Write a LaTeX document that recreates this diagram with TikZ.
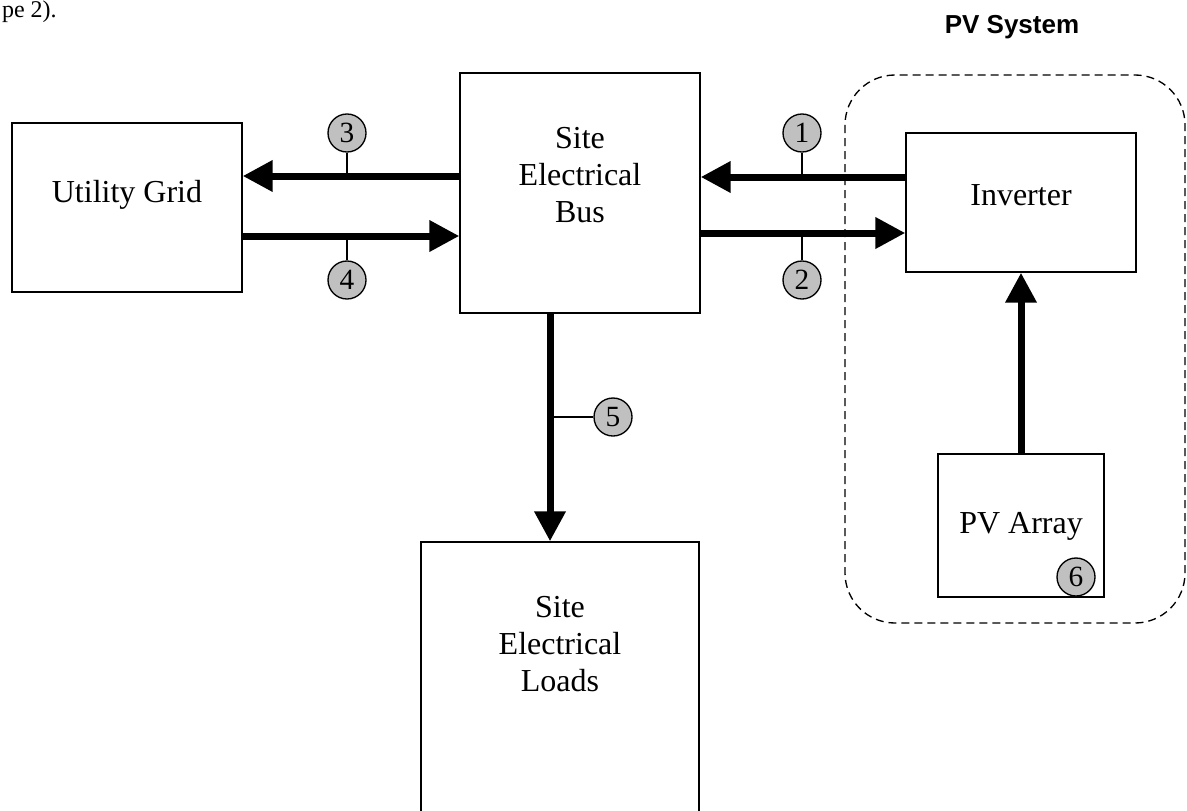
\documentclass[tikz,border=0pt]{standalone}
\usepackage{fontspec}
\setmainfont{Liberation Serif}
\newfontfamily\arialfont{Liberation Sans}
\usetikzlibrary{arrows.meta,calc}
\definecolor{numgray}{HTML}{C0C0C0}
\begin{document}
\begin{tikzpicture}[x=0.75pt,y=-0.75pt,
  box/.style={draw=black,line width=1.1pt,inner sep=0pt,fill=white},
  lbl/.style={inner sep=0pt,font=\fontsize{24pt}{27.75pt}\selectfont,align=center},
  flow/.style={line width=5.25pt,-{Triangle[length=22.5pt,width=22.5pt]}},
  num/.style={circle,draw=black,line width=1pt,fill=numgray,minimum size=28.5pt,inner sep=0pt,font=\fontsize{22pt}{24pt}\selectfont},
  tick/.style={line width=1pt},
  pvbound/.style={draw=black,line width=1pt,dash pattern=on 6pt off 3.75pt,rounded corners=37.5pt}]
\useasboundingbox (0,0) rectangle (1187,810);
% top fragment and title
\node[anchor=base east,inner sep=0pt,font=\fontsize{18pt}{20pt}\selectfont] (frag) at (57,17) {pe 2).};
\node[anchor=base,inner sep=0pt,font=\arialfont\bfseries\fontsize{19.5pt}{22pt}\selectfont] (pvtitle) at (1012,33) {PV System};
% PV system boundary
\draw[pvbound] (845,75) rectangle (1185,623);
% boxes
\node[box,minimum width=172.5pt,minimum height=126.75pt] (grid) at (127,207.5) {};
\node[box,minimum width=180pt,minimum height=180pt] (bus) at (580,193) {};
\node[box,minimum width=172.5pt,minimum height=104.25pt] (inv) at (1021,202.5) {};
\node[box,minimum width=124.5pt,minimum height=107.25pt] (pv) at (1021,525.5) {};
\node[box,minimum width=208.5pt,minimum height=216pt] (loads) at (560,686) {};
% texts
\node[lbl,anchor=base] (gridT) at (127,202) {Utility Grid};
\node[lbl,anchor=base] (invT) at (1021,205) {Inverter};
\node[lbl,anchor=base] (pvT) at (1021,533) {PV Array};
\node[lbl,anchor=center] (busT) at (580,175) {Site\\Electrical\\Bus};
\node[lbl,anchor=center] (loadsT) at (560,644) {Site\\Electrical\\Loads};
% rows / columns for connectors
\coordinate (r3) at (0,176);
\coordinate (r4) at (0,236);
\coordinate (r1) at (0,177);
\coordinate (r2) at (0,233);
\coordinate (c5x) at (550,0);
\coordinate (cpvx) at (1021,0);
% connectors
\draw[flow] (bus.west |- r3) -- (grid.east |- r3);
\draw[flow] (grid.east |- r4) -- (bus.west |- r4);
\draw[flow] (inv.west |- r1) -- (bus.east |- r1);
\draw[flow] (bus.east |- r2) -- (inv.west |- r2);
\draw[flow] (bus.south -| c5x) -- (loads.north -| c5x);
\draw[flow] (pv.north -| cpvx) -- (inv.south -| cpvx);
% number circles
\node[num] (n3) at (347,133) {3};
\node[num] (n4) at (347,280) {4};
\node[num] (n1) at (802,133) {1};
\node[num] (n2) at (802,280) {2};
\node[num] (n5) at (613,417) {5};
\node[num] (n6) at (1076,577) {6};
\draw[tick] (n3) -- (n3 |- r3);
\draw[tick] (n4) -- (n4 |- r4);
\draw[tick] (n1) -- (n1 |- r1);
\draw[tick] (n2) -- (n2 |- r2);
\draw[tick] (n5) -- (n5 -| c5x);
\end{tikzpicture}
\end{document}
